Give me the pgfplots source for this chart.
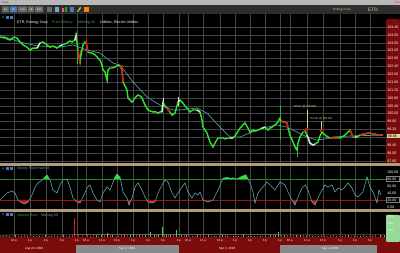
\documentclass[border=0pt]{standalone}
\usepackage{pgfplots}
\pgfplotsset{compat=1.18}
\usepackage{pgfplotstable}
\usepackage{fontspec}
\setmainfont{Liberation Sans}
\definecolor{gridc}{HTML}{444444}
\definecolor{pgreen}{HTML}{2EE62E}
\definecolor{pdkgreen}{HTML}{1E8A1E}
\definecolor{pred}{HTML}{E81818}
\definecolor{pwhite}{HTML}{DCDCDC}
\definecolor{mac}{HTML}{4E9CA0}
\definecolor{mfic}{HTML}{5AA6AA}
\definecolor{axred}{HTML}{7A0C0C}
\definecolor{tanc}{HTML}{B49A7C}
\definecolor{dategray}{HTML}{8A8A8A}
\definecolor{titlegray}{HTML}{B8B8B8}
\definecolor{toolgray}{HTML}{2E2E2E}
\definecolor{btngray}{HTML}{6A6A6A}
\definecolor{btnblue}{HTML}{4A78B8}
\definecolor{volbox}{HTML}{98D898}
\definecolor{yel}{HTML}{D0D088}
\definecolor{volma}{HTML}{9A8AB0}
\newcommand{\tf}{\fontsize{3.6}{4}\selectfont}
\newcommand{\sml}{\fontsize{3.0}{3.4}\selectfont}
\newcommand{\xs}{\fontsize{2.4}{2.6}\selectfont}
\newcommand{\vgrid}[2]{\pgfplotsinvokeforeach{14,30,46,62,77,86,102,117,133,148,163,179,188,203,220,235,250,265,280,290,307,323,340,355,370}{\draw[gridc, line width=0.5pt] (axis cs:##1,#1) -- (axis cs:##1,#2);}}

\pgfplotstableread{
x p
0 103.89
5 103.84
10 103.74
14 103.89
17 103.84
20 103.64
23 103.49
27 103.38
30 103.23
33 103.33
37 103.33
40 103.59
43 103.64
47 103.49
50 103.38
53 103.44
57 103.33
60 103.44
62 103.49
65 103.54
67 103.59
70 103.69
72 103.64
75 103.74
76 103.99
78 103.23
79 102.88
80 102.62
81 102.98
82 103.23
83 103.49
85 103.64
86 103.64
88 103.13
90 103.08
92 103.08
95 102.98
97 102.88
100 102.72
102 102.47
103 102.22
105 102.12
107 101.71
108 102.22
110 102.32
112 102.32
115 102.37
118 102.47
120 102.42
122 102.22
123 101.61
125 101.41
127 101.20
128 100.80
130 100.69
132 100.59
135 100.80
138 100.95
140 100.90
142 100.80
145 100.44
148 100.19
150 100.14
153 100.09
156 100.09
158 100.03
160 100.09
162 100.09
163 100.59
165 100.39
167 100.29
168 100.19
170 100.09
172 99.93
175 100.03
178 100.59
180 100.69
183 100.54
185 100.39
187 100.29
190 100.09
193 100.19
197 100.19
200 100.09
202 99.68
203 99.32
205 99.17
207 99.02
210 98.56
213 98.31
215 98.51
218 98.77
220 98.77
223 98.77
225 98.72
228 98.77
230 98.77
233 98.77
235 98.87
237 99.02
240 99.27
243 99.43
245 99.53
248 99.27
250 99.07
253 99.17
255 99.12
258 99.17
260 99.22
262 99.27
265 99.32
268 99.17
270 99.27
272 99.32
275 99.43
278 99.58
280 99.78
281 99.63
283 99.58
285 99.58
287 99.53
288 99.27
290 98.92
293 98.56
295 98.31
297 98.16
298 98.51
300 98.82
303 99.07
305 99.12
307 98.92
310 98.51
313 98.41
315 98.46
318 98.56
320 98.87
322 99.07
325 98.92
328 98.82
330 98.77
332 98.77
335 98.77
338 98.77
340 98.77
342 98.82
345 98.92
348 99.07
350 99.17
353 98.82
355 98.82
357 98.82
360 98.92
363 98.97
365 98.97
368 99.02
370 99.02
373 98.97
375 98.97
378 98.92
380 98.92
383 98.92
}\pricetable

\pgfplotstableread{
x m
0 20
3 28.6
7 40
12 45.7
15 40
18 20
22 11.4
25 8.6
28 14.3
32 34.3
35 57
38 68.6
42 77
45 85.7
47 91.4
50 77
53 48.6
57 40
60 62.9
63 77
67 80
70 57
73 25.7
77 14.3
80 11.4
83 28.6
87 54.3
90 62.9
93 40
97 20
100 14.3
103 40
107 57
110 48.6
115 85.7
117 94.3
120 85.7
123 42.9
127 25.7
129 5.7
132 25.7
135 57
138 68.6
142 48.6
145 28.6
148 14.3
152 11.4
155 14.3
158 40
162 62.9
165 77
168 71.4
172 40
175 25.7
178 40
182 57
185 68.6
188 42.9
192 25.7
195 40
198 34.3
200 42.9
203 20
208 14.3
213 20
218 48.6
223 82
227 85
230 82
233 83
237 80
242 88
246 92
250 68.6
253 42.9
255 11.4
258 40
262 54.3
267 71.4
272 57
275 48.6
280 71.4
285 62.9
288 42.9
292 20
295 5.7
298 28.6
302 54.3
305 62.9
308 48.6
312 14.3
315 5.7
318 25.7
322 48.6
325 62.9
328 57
332 62.9
335 42.9
338 54.3
342 48.6
345 57
348 68.6
352 54.3
355 34.3
358 28.6
363 42.9
367 85.7
370 57
373 42.9
377 12
379 48.6
381 34.3
}\mfitable

\pgfplotsset{
  panel/.style={scale only axis, width=386pt, xmin=0, xmax=386,
    axis line style={draw=none}, tick style={draw=none},
    major grid style={draw=gridc, line width=0.5pt},
    yticklabel pos=right,
    yticklabel style={font=\tf, text=white, inner sep=0pt, xshift=1.2pt},
  },
}

\begin{document}
\begin{tikzpicture}[x=1pt,y=1pt]
\useasboundingbox (0,0) rectangle (400,253);
\fill[black] (0,0) rectangle (400,253);
% title bar and toolbar
\fill[titlegray] (0,248) rectangle (400,253);
\node[anchor=west, inner sep=0pt, text=black!75] at (2,250.5) {\xs Graph};
\fill[toolgray] (0,239) rectangle (400,248);
\foreach \a/\b/\t in {2/9/1d, 18/27/10d, 28/34/1d, 35/43/20d}{
  \fill[btngray, rounded corners=0.6pt] (\a,240.5) rectangle (\b,246.5);
  \node[inner sep=0pt, text=white] at ({(\a+\b)/2},243.5) {\xs \t};
}
\fill[btnblue, rounded corners=0.6pt] (10,240.5) rectangle (17,246.5);
\node[inner sep=0pt, text=white] at (13.5,243.5) {\xs 5d};
\fill[btngray] (47,241) rectangle (52,246);
\fill[btnblue!70!white] (55,241) rectangle (59,246);
\fill[pred!70!white] (62,241) rectangle (64,245);
\fill[pgreen!70!black] (64.5,241) rectangle (66.5,246);
\fill[btnblue] (70,241) rectangle (74,246);
\fill[yel!90!orange] (77,241) -- (80,246) -- (81,245) -- (78,241) -- cycle;
\fill[orange] (84,241) rectangle (89,246);
\node[anchor=west, inner sep=0pt, text=yel] at (333,243.5) {\sml Entergy Corp};
\node[anchor=west, inner sep=0pt, text=yel] at (368,243.5) {\fontsize{4.8}{5}\selectfont ETR};
\node[anchor=east, inner sep=0pt, text=pred] at (400,250.3) {\xs -0.12};
\node[anchor=east, inner sep=0pt, text=pred] at (400,246.8) {\xs -0.12\%};
% right red price scale
\fill[axred, rounded corners=1.5pt] (386,90) rectangle (400,234);
% separators
\fill[tanc] (0,87) rectangle (400,90);
\fill[tanc] (0,41) rectangle (400,44);
% time and date bands
\fill[axred] (0,0) rectangle (400,16);
\fill[dategray] (76,0) rectangle (179,7.5);
\fill[dategray] (280,0) rectangle (377,7.5);
\node[inner sep=0pt, text=white] at (34,3.8) {\sml Aug 29, 2008};
\node[inner sep=0pt, text=white] at (127,3.8) {\sml Sep 2, 2008};
\node[inner sep=0pt, text=white] at (227,3.8) {\sml Sep 3, 2008};
\node[inner sep=0pt, text=white] at (330,3.8) {\sml Sep 4, 2008};
% volume scale box
\fill[volbox, rounded corners=1pt] (386,11) rectangle (400,38);

% ---------------- price panel ----------------
\begin{axis}[panel, at={(0pt,90pt)}, anchor=south west, height=149pt, ymin=97.50, ymax=105.06,
  ymajorgrids, xtick=\empty,
  ytick={97.6,98.0,98.4,98.8,99.2,99.6,100.0,100.4,100.8,101.2,101.6,102.0,102.4,102.8,103.2,103.6,104.0,104.4},
  yticklabel style={/pgf/number format/fixed, /pgf/number format/fixed zerofill,
    /pgf/number format/precision=2, /pgf/number format/assume math mode=true}]
\vgrid{97.5}{105.06}
\addplot[mac, line width=0.7pt] coordinates {(0,103.99) (20,103.64) (37,103.44) (60,103.38) (73,103.49) (87,103.23) (100,103.08) (113,102.57) (120,102.47) (133,101.61) (147,100.85) (160,100.44) (173,100.19) (180,100.19) (197,100.29) (207,100.03) (220,99.32) (230,98.82) (240,98.82) (252,99.07) (263,99.27) (277,99.43) (287,99.32) (297,99.07) (307,98.82) (317,98.66) (325,98.72) (333,98.82) (350,98.87) (383,98.92)};
% wicks
\addplot[pgreen!80!black, line width=0.5pt, unbounded coords=jump] coordinates {(77,103.64) (77,102.52) (77,nan) (107,101.61) (107,102.10) (107,nan) (280,100.39) (280,98.66) (280,nan) (297,97.80) (297,98.40)};
\addplot[pred, line width=0.5pt, unbounded coords=jump] coordinates {(80,102.52) (80,103.20) (80,nan) (86,103.84) (86,103.30) (86,nan) (122,102.47) (122,101.90)};
\addplot[pwhite, line width=0.5pt, unbounded coords=jump] coordinates {(76,104.10) (76,103.74) (76,nan) (163,100.80) (163,100.40) (163,nan) (178,100.85) (178,100.40)};
% candle bodies (close path)
\addplot[pgreen, line width=1.4pt] table[x=x, y=p] {\pricetable};
\addplot[pred, line width=1.4pt, unbounded coords=jump] coordinates {(78,103.23) (79,102.88) (80,102.62) (80,nan) (86,103.64) (88,103.13) (88,nan) (120,102.42) (122,102.22) (123,101.61) (123,nan) (167,100.29) (168,100.19) (170,100.09) (170,nan) (281,99.63) (283,99.58) (285,99.58) (287,99.53) (288,99.27) (288,nan) (303,99.07) (305,99.12) (305,nan) (330,98.77) (332,98.77) (335,98.77) (338,98.77) (338,nan) (350,99.17) (353,98.82) (353,nan) (360,98.92) (363,98.97) (365,98.97) (368,99.02) (370,99.02) (373,98.97) (375,98.97) (378,98.92) (380,98.92) (383,98.92)};
\addplot[pwhite, line width=1.4pt, unbounded coords=jump] coordinates {(37,103.33) (40,103.59) (40,nan) (60,103.44) (62,103.49) (62,nan) (75,103.74) (76,103.99) (76,nan) (162,100.09) (163,100.59) (163,nan) (178,100.59) (180,100.69) (180,nan) (197,100.19) (200,100.09) (200,nan) (230,98.77) (233,98.77) (233,nan) (262,99.27) (265,99.32) (265,nan) (307,98.92) (310,98.51) (313,98.41) (315,98.46) (315,nan) (355,98.82) (357,98.82)};
% trade annotations
\draw[yel, line width=0.4pt] (axis cs:307,100.19) -- (axis cs:307,99.30);
\draw[yel, line width=0.4pt] (axis cs:321,99.63) -- (axis cs:321,99.25);
\addplot[only marks, mark=triangle*, mark size=1.6pt, mark options={rotate=180, fill=pred, draw=pred}] coordinates {(307,99.20) (321,99.15)};
\node[anchor=east, inner sep=0pt, text=yel] at (axis cs:316,100.34) {\sml Short @ (99.80)};
\node[anchor=west, inner sep=0pt, text=yel] at (axis cs:310,99.76) {\sml Cover @ (99.02)};
% legend row
\node[anchor=west, inner sep=0pt, text=white] at (axis cs:17,104.62) {\tf ETR, Entergy Corp};
\node[anchor=west, inner sep=0pt, text=pgreen!80!black] at (axis cs:52,104.62) {\tf Price History};
\node[anchor=west, inner sep=0pt, text=mac] at (axis cs:78,104.62) {\tf Moving 20};
\node[anchor=west, inner sep=0pt, text=white] at (axis cs:100,104.62) {\tf Utilities, Electric Utilities};
\end{axis}
% legend icons price
\node[inner sep=0pt, text=white] at (3,235.2) {\sml x};
\fill[btnblue] (6,234) rectangle (8.5,236.5);
\fill[btnblue] (10,234) rectangle (12.5,236.5);
% last price highlight
\fill[yel!80!white] (386.5,114.6) rectangle (399.5,119.4);
\node[anchor=west, inner sep=0pt, text=black] at (387.7,117) {\tf 98.86};

% ---------------- MFI panel ----------------
\begin{axis}[panel, at={(0pt,44pt)}, anchor=south west, height=43pt, ymin=-5.7, ymax=117.1,
  xtick=\empty,
  ytick={0,20,40,60,80,100}, yticklabels={0.00,20.00,40.00,60.00,80.00,100.00}]
\vgrid{-5.7}{117.1}
% overbought fills (above 80)
\addplot[fill=pgreen, draw=none] coordinates {(43.0,80) (45,85.7) (47,91.4) (49.4,80)};
\addplot[fill=pgreen, draw=none] coordinates {(114.2,80) (115,85.7) (117,94.3) (120,85.7) (120.4,80)};
\addplot[fill=pgreen, draw=none] coordinates {(222.7,80) (223,82) (227,85) (230,82) (233,83) (237,80) (242,88) (246,92) (248.1,80)};
\addplot[fill=pgreen, draw=none] coordinates {(366.5,80) (367,85.7) (367.6,80)};
% oversold fills (below 20)
\addplot[fill=pred, draw=none] coordinates {(18,20) (22,11.4) (25,8.6) (28,14.3) (29.1,20)};
\addplot[fill=pred, draw=none] coordinates {(75,20) (77,14.3) (80,11.4) (81.5,20)};
\addplot[fill=pred, draw=none] coordinates {(97,20) (100,14.3) (100.7,20)};
\addplot[fill=pred, draw=none] coordinates {(127.6,20) (129,5.7) (131.1,20)};
\addplot[fill=pred, draw=none] coordinates {(146.8,20) (148,14.3) (152,11.4) (155,14.3) (155.7,20)};
\addplot[fill=pred, draw=none] coordinates {(203,20) (208,14.3) (213,20)};
\addplot[fill=pred, draw=none] coordinates {(254.5,20) (255,11.4) (255.9,20)};
\addplot[fill=pred, draw=none] coordinates {(292,20) (295,5.7) (296.9,20)};
\addplot[fill=pred, draw=none] coordinates {(311.3,20) (312,14.3) (315,5.7) (317.1,20)};
\addplot[fill=pred, draw=none] coordinates {(376,20) (377,12) (377.4,20)};
\addplot[pdkgreen, line width=0.5pt] coordinates {(0,80) (386,80)};
\addplot[pred!70!black, line width=0.5pt] coordinates {(0,20) (386,20)};
\addplot[mfic, line width=0.6pt] table[x=x, y=m] {\mfitable};
\node[anchor=west, inner sep=0pt, text=mfic] at (axis cs:17,110) {\tf Money Flow Index 8};
\end{axis}
\node[inner sep=0pt, text=white] at (3,84.2) {\sml x};
\fill[btnblue] (6,83) rectangle (8.5,85.5);
\fill[btnblue] (10,83) rectangle (12.5,85.5);
\draw[gray, line width=0.3pt] (386.5,71.5) rectangle (399.5,76.5);
\draw[gray, line width=0.3pt] (386.5,50.8) rectangle (399.5,55.8);

% ---------------- volume panel ----------------
\begin{axis}[panel, at={(0pt,16pt)}, anchor=south west, height=25pt, ymin=0, ymax=3571,
  xmajorgrids,
  xtick={14,30,46,62,77,86,102,117,133,148,163,179,188,203,220,235,250,265,280,290,307,323,340,355,370},
  xticklabels={12 p,1 p,2 p,3 p,4 p,10 a,11 a,12 p,1 p,2 p,3 p,4 p,10 a,11 a,12 p,1 p,2 p,3 p,4 p,10 a,11 a,12 p,1 p,2 p,3 p},
  xticklabel style={font=\sml, text=white, inner sep=0pt, yshift=-2.5pt},
  ytick={1000,2000,3000}, yticklabels={1000,2000,3000},
  yticklabel style={font=\sml, text=white!85!green}]
\addplot[ycomb, draw=pgreen, line width=1pt] coordinates {(3,200) (9,150) (15,250) (21,180) (27,120) (33,200) (39,150) (45,260) (51,180) (57,140) (63,220) (69,160) (90,200) (96,250) (101,300) (107,570) (112,250) (118,200) (124,300) (130,250) (133,430) (139,260) (145,350) (150,700) (154,300) (158,400) (162,1430) (166,350) (170,300) (176,1000) (181,250) (186,300) (192,200) (197,250) (203,200) (208,250) (214,150) (219,200) (222,290) (227,150) (233,200) (238,150) (243,430) (248,200) (254,150) (260,200) (265,180) (270,250) (275,300) (278,700) (284,250) (290,200) (296,300) (300,250) (306,200) (312,180) (318,200) (324,150) (330,200) (336,150) (342,200) (348,250) (354,150) (360,200) (366,150) (372,200) (380,290) (384,250)};
\addplot[ycomb, draw=pred, line width=1pt] coordinates {(0,150) (6,250) (12,200) (18,150) (24,220) (30,180) (36,150) (42,200) (48,160) (54,220) (60,150) (66,200) (72,250) (74,2700) (78,350) (82,300) (87,250) (93,300) (98,200) (104,250) (110,300) (115,200) (121,350) (127,300) (136,250) (142,300) (148,200) (156,250) (164,300) (168,250) (173,300) (179,200) (184,250) (189,200) (195,150) (200,250) (205,200) (211,150) (216,200) (225,250) (230,200) (236,150) (241,200) (246,150) (251,200) (257,150) (262,200) (268,150) (273,250) (281,300) (287,250) (293,250) (298,200) (303,300) (309,250) (315,200) (321,250) (327,200) (333,250) (339,200) (345,250) (351,200) (357,200) (363,250) (369,200) (375,250) (381,200)};
\addplot[volma, line width=0.5pt] coordinates {(0,280) (74,320) (150,380) (200,330) (280,320) (385,300)};
\node[anchor=west, inner sep=0pt, text=pgreen!80!black] at (axis cs:17,3050) {\tf Volume Bars};
\node[anchor=west, inner sep=0pt, text=volma] at (axis cs:41,3050) {\tf Moving 50};
\end{axis}
\node[inner sep=0pt, text=white] at (3,38.2) {\sml x};
\fill[btnblue] (6,37) rectangle (8.5,39.5);
\fill[btnblue] (10,37) rectangle (12.5,39.5);
\end{tikzpicture}
\end{document}
